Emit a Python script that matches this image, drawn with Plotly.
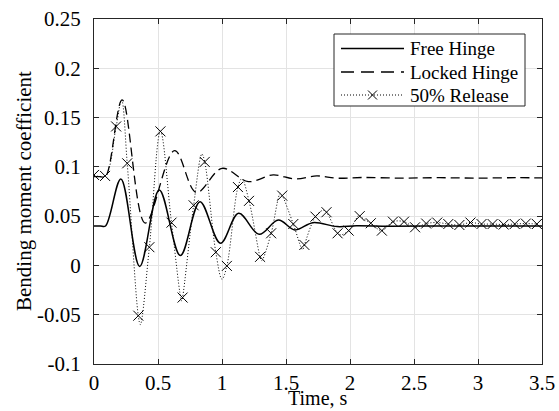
import plotly.graph_objects as go

# ---------------- data ----------------
free_t = [0.0, 0.05, 0.09, 0.21, 0.357, 0.51, 0.675, 0.828, 0.988, 1.13, 1.29,
          1.44, 1.57, 1.71, 1.9, 2.05, 2.3, 2.6, 3.0, 3.5]
free_v = [0.040, 0.040, 0.040, 0.0877, -0.001, 0.0766, 0.010, 0.0647, 0.0225, 0.053,
          0.0316, 0.046, 0.036, 0.0434, 0.0394, 0.0402, 0.0398, 0.0400, 0.0399, 0.0400]

locked_t = [0.0, 0.05, 0.09, 0.22, 0.40, 0.63, 0.80, 1.00, 1.205, 1.40, 1.57, 1.74,
            1.9, 2.1, 2.4, 2.7, 3.0, 3.3, 3.5]
locked_v = [0.090, 0.090, 0.090, 0.168, 0.043, 0.1165, 0.074, 0.0985, 0.085, 0.0918,
            0.0877, 0.0908, 0.0885, 0.0892, 0.0886, 0.0890, 0.0886, 0.0890, 0.0888]

# 50% release: sampled points shown with markers
rel_mark_t = [0.0, 0.0865, 0.173, 0.2595, 0.346, 0.4325, 0.519, 0.6055, 0.692, 0.7785,
              0.865, 0.9515, 1.038, 1.1245, 1.211, 1.2975, 1.384, 1.4705, 1.557, 1.6435,
              1.73, 1.8165, 1.903, 1.9895, 2.076, 2.1625, 2.249, 2.3355, 2.422, 2.5085,
              2.595, 2.6815, 2.768, 2.8545, 2.941, 3.0275, 3.114, 3.2005, 3.287, 3.3735,
              3.46]
rel_mark_v = [0.0918, 0.0908, 0.141, 0.1036, -0.051, 0.0185, 0.136, 0.0434, -0.0326, 0.061,
              0.105, 0.0134, -0.0005, 0.0795, 0.0655, 0.0087, 0.0326, 0.0708, 0.042, 0.0208,
              0.0495, 0.054, 0.0326, 0.0353, 0.050, 0.0428, 0.0353, 0.0444, 0.0444, 0.0387,
              0.0425, 0.0435, 0.042, 0.041, 0.0435, 0.042, 0.042, 0.0415, 0.042, 0.0425,
              0.042]
# 50% release: extreme values of the curve between the sampled points
rel_peak_t = [0.215, 0.362, 0.685, 0.843, 1.0, 1.155, 1.31, 1.455, 1.63, 1.79, 1.93, 2.07]
rel_peak_v = [0.168, -0.060, -0.036, 0.113, -0.014, 0.088, 0.005, 0.073, 0.016, 0.056, 0.031, 0.051]

series_names = ["Free Hinge", "Locked Hinge", "50% Release"]
x_title = "Time, s"
y_title = "Bending moment coefficient"

x_ticks = [0, 0.5, 1, 1.5, 2, 2.5, 3, 3.5]
x_ticktext = ["0", "0.5", "1", "1.5", "2", "2.5", "3", "3.5"]
y_ticks = [-0.1, -0.05, 0, 0.05, 0.1, 0.15, 0.2, 0.25]
y_ticktext = ["-0.1", "-0.05", "0", "0.05", "0.1", "0.15", "0.2", "0.25"]

# ---------------- layout constants ----------------
W, H = 559, 411
ML, MR, MT, MB = 94, 17, 19, 47
PW, PH = W - ML - MR, H - MT - MB
FONT = "Liberation Serif, Times New Roman, serif"
AX_COL = "#262626"


def px(xp):
    return (xp - ML) / PW


def py(yp):
    return (H - MB - yp) / PH


# ---------------- figure ----------------
rel_pts = sorted(zip(rel_mark_t + rel_peak_t, rel_mark_v + rel_peak_v))
rel_t = [p[0] for p in rel_pts]
rel_v = [p[1] for p in rel_pts]

SOLID = dict(color="black", width=1.5)
DASH = dict(color="black", width=1.3, dash="9px,5px")
DOT = dict(color="black", width=1, dash="1px,2px")

fig = go.Figure()
fig.add_trace(go.Scatter(x=free_t, y=free_v, mode="lines", name=series_names[0],
                         line=dict(**SOLID, shape="spline", smoothing=1.0)))
fig.add_trace(go.Scatter(x=locked_t, y=locked_v, mode="lines", name=series_names[1],
                         line=dict(**DASH, shape="spline", smoothing=1.0)))
fig.add_trace(go.Scatter(x=rel_t, y=rel_v, mode="lines", name=series_names[2],
                         line=dict(**DOT, shape="spline", smoothing=1.0)))
fig.add_trace(go.Scatter(x=rel_mark_t, y=rel_mark_v, mode="markers", name=series_names[2],
                         marker=dict(symbol="x-thin", size=10, color="black",
                                     line=dict(color="black", width=1))))

axis_common = dict(showgrid=True, gridcolor="#e3e3e3", gridwidth=1, automargin=False,
                   showline=True, linecolor=AX_COL, linewidth=1, mirror="ticks",
                   ticks="inside", ticklen=5, tickcolor=AX_COL,
                   zeroline=False, tickfont=dict(family=FONT, size=21, color="black"))

fig.update_xaxes(range=[0, 3.5], tickvals=x_ticks, ticktext=x_ticktext,
                 ticklabelstandoff=0, **axis_common)
fig.update_yaxes(range=[-0.1, 0.25], tickvals=y_ticks, ticktext=y_ticktext,
                 ticklabelstandoff=8, **axis_common)

# axis titles
annotations = [
    dict(text=x_title, xref="paper", yref="paper", x=0.5, y=0, xanchor="center",
         yanchor="middle", yshift=-34, showarrow=False,
         font=dict(family=FONT, size=20, color="black")),
    dict(text=y_title, xref="paper", yref="paper", x=0, y=0.5, xanchor="center",
         yanchor="middle", xshift=-70.5, textangle=-90, showarrow=False,
         font=dict(family=FONT, size=21, color="black")),
]

# legend box (MATLAB style)
shapes = [dict(type="rect", xref="paper", yref="paper", x0=px(334), x1=px(525),
               y0=py(106), y1=py(34), fillcolor="white", line=dict(color=AX_COL, width=1),
               layer="above")]
row_y = [48.5, 72, 95]
legend_styles = [SOLID, dict(color="black", width=1.3, dash="13px,7px"), DOT]
for name, yy, st in zip(series_names, row_y, legend_styles):
    shapes.append(dict(type="line", xref="paper", yref="paper", x0=px(341), x1=px(404),
                       y0=py(yy), y1=py(yy), line=st, layer="above"))
    annotations.append(dict(text=name, xref="paper", yref="paper", x=px(408), y=py(yy),
                            xanchor="left", yanchor="middle", showarrow=False,
                            font=dict(family=FONT, size=19, color="black")))
# legend marker for the 50% release entry
cx, cy, r = 372.5, row_y[2], 4.5
shapes.append(dict(type="path", xref="paper", yref="paper", layer="above",
                   path=f"M{px(cx - r)},{py(cy - r)} L{px(cx + r)},{py(cy + r)} "
                        f"M{px(cx - r)},{py(cy + r)} L{px(cx + r)},{py(cy - r)}",
                   line=dict(color="black", width=1)))

fig.update_layout(
    width=W, height=H,
    margin=dict(l=ML, r=MR, t=MT, b=MB),
    paper_bgcolor="white", plot_bgcolor="white",
    font=dict(family=FONT, size=21, color="black"),
    showlegend=False,
    shapes=shapes, annotations=annotations,
)

fig.write_html("out.html", config={"displayModeBar": False},
               post_script="document.body.style.margin='0px';document.body.style.overflow='hidden';")
